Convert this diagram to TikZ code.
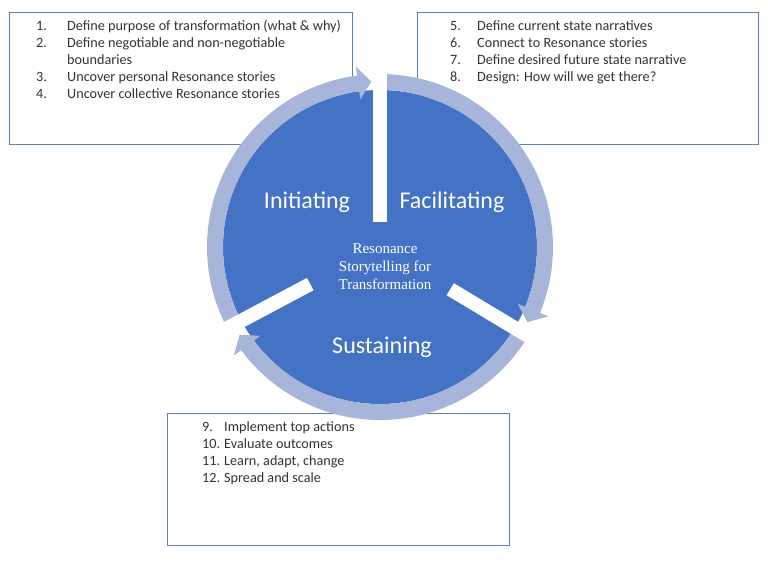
\documentclass[tikz,border=0pt]{standalone}
\usepackage{fontspec}
\setmainfont{Carlito}
\newfontfamily\centerfont{Liberation Serif}
\usetikzlibrary{positioning,calc}

\definecolor{cycleblue}{RGB}{68,114,196}
\definecolor{ringblue}{RGB}{168,181,219}
\definecolor{boxline}{RGB}{96,128,168}

% one cycle arrow: start angle, end of body, tip angle
\newcommand{\cyclearrow}[3]{%
  \fill[ringblue] ($(C)+(#1:157)$) arc[start angle=#1, end angle=#2, radius=157]
    -- ($(C)+(#2:149)$) -- ($(C)+(#3:165.5)$) -- ($(C)+(#2:182)$)
    -- ($(C)+(#2:173)$) arc[start angle=#2, end angle=#1, radius=173] -- cycle;
}

\begin{document}
\begin{tikzpicture}[x=1pt, y=1pt,
    listbox/.style={draw=boxline, line width=1.3, fill=white, anchor=north west, inner sep=0},
    listtext/.style={anchor=base west, inner sep=0, text=black!80, font=\fontsize{14.2}{17}\selectfont},
    phase/.style={text=white, font=\fontsize{24}{28}\selectfont},
    gap/.style={white, line width=14}]
  \useasboundingbox (0,0) rectangle (768,565);

  % boxes
  \node[listbox, minimum width=343, minimum height=132] (box1) at (9,553) {};
  \node[listbox, minimum width=341, minimum height=132] (box2) at (417,553) {};
  \node[listbox, minimum width=342, minimum height=132] (box3) at (167,152) {};

  \node[listtext] (list1) at ($(box1.north west)+(27,-19)$) {%
    \begin{tabular}[t]{@{}l@{}l@{}}
      \makebox[31pt][l]{1.} & Define purpose of transformation (what \& why)\\
      \makebox[31pt][l]{2.} & Define negotiable and non-negotiable\\
                            & boundaries\\
      \makebox[31pt][l]{3.} & Uncover personal Resonance stories\\
      \makebox[31pt][l]{4.} & Uncover collective Resonance stories
    \end{tabular}};
  \node[listtext] (list2) at ($(box2.north west)+(33,-19)$) {%
    \begin{tabular}[t]{@{}l@{}l@{}}
      \makebox[27pt][l]{5.} & Define current state narratives\\
      \makebox[27pt][l]{6.} & Connect to Resonance stories\\
      \makebox[27pt][l]{7.} & Define desired future state narrative\\
      \makebox[27pt][l]{8.} & Design: How will we get there?
    \end{tabular}};
  \node[listtext] (list3) at ($(box3.north west)+(35,-19)$) {%
    \begin{tabular}[t]{@{}l@{}l@{}}
      \makebox[22pt][l]{9.} & Implement top actions\\
      \makebox[22pt][l]{10.} & Evaluate outcomes\\
      \makebox[22pt][l]{11.} & Learn, adapt, change\\
      \makebox[22pt][l]{12.} & Spread and scale
    \end{tabular}};

  % cycle
  \coordinate (C) at (380,318);
  \fill[cycleblue] (C) circle[radius=157];
  \cyclearrow{209}{97.6}{93}
  \cyclearrow{90}{-22.4}{-27}
  \cyclearrow{-31}{-143.4}{-148}

  % gaps between the phases
  \coordinate (g1a) at ($(C)+(90:25)$);  \coordinate (g1b) at ($(C)+(90:192)$);
  \coordinate (g2a) at ($(C)+(-31:82)$); \coordinate (g2b) at ($(C)+(-31:190)$);
  \coordinate (g3a) at ($(C)+(208:79)$); \coordinate (g3b) at ($(C)+(208:190)$);
  \draw[gap] (g1a) -- (g1b);
  \draw[gap] (g2a) -- (g2b);
  \draw[gap] (g3a) -- (g3b);

  % labels
  \node[phase] (init) at (307,363) {Initiating};
  \node[phase] (facil) at (452,363) {Facilitating};
  \node[phase] (sust) at (382,218) {Sustaining};
  \node[text=white, align=center, font=\centerfont\fontsize{15}{18}\selectfont] (core) at (385,298)
    {Resonance\\Storytelling for\\Transformation};
\end{tikzpicture}
\end{document}
